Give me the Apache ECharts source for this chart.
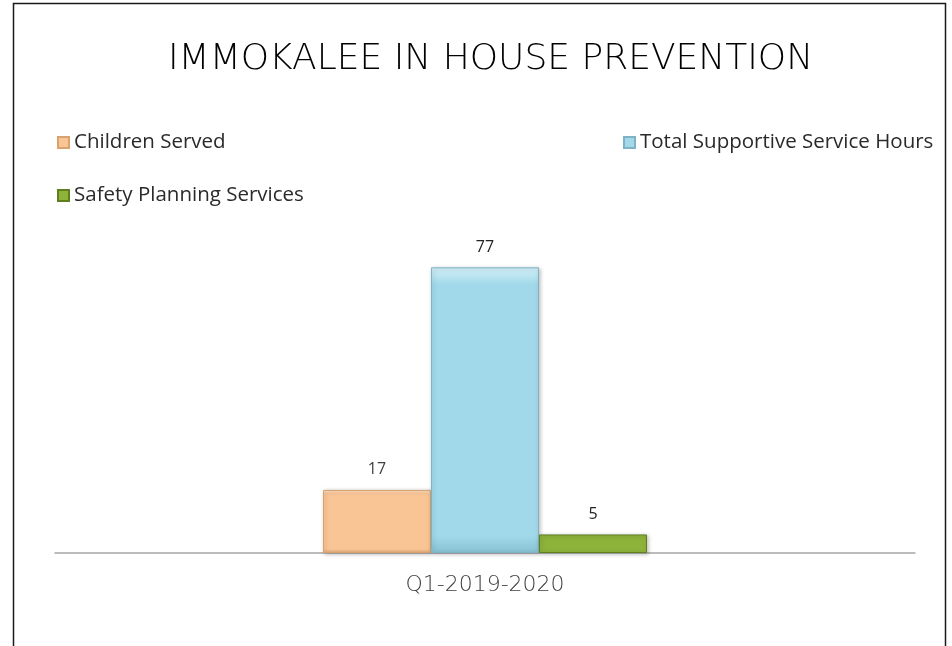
<!DOCTYPE html>
<html>
<head>
<meta charset="utf-8">
<script src="https://cdn.jsdelivr.net/npm/echarts@6/dist/echarts.min.js"></script>
<style>html,body{margin:0;padding:0;background:#fff}#c{width:952px;height:646px}</style>
</head>
<body>
<div id="c"></div>
<script>
const categories = ['Q1-2019-2020'];
const seriesNames = ['Children Served', 'Total Supportive Service Hours', 'Safety Planning Services'];
const childrenServed = [17];
const supportiveHours = [77];
const safetyPlanning = [5];

const chart = echarts.init(document.getElementById('c'));
const font = 'Open Sans';
function grad(top, mid, bottom) {
  return new echarts.graphic.LinearGradient(0, 0, 0, 1, [
    {offset: 0, color: top}, {offset: 0.06, color: mid}, {offset: 0.94, color: mid}, {offset: 1, color: bottom}
  ]);
}
const colors = [
  {fill: grad('#fde3c8', '#fac595', '#e0a877'), border: '#d9a26e', label: '#404040'},
  {fill: grad('#d4f1f9', '#a2d9ea', '#86c1d3'), border: '#7fb2c4', label: '#222'},
  {fill: grad('#b6d86a', '#8db33b', '#6a8c24'), border: '#5f7f1e', label: '#222'}
];
const values = [childrenServed, supportiveHours, safetyPlanning];

const legendBase = {
  icon: 'rect', itemWidth: 11, itemHeight: 11, itemGap: 6,
  textStyle: {fontFamily: font, fontSize: 20.5, color: '#2a2a2a'},
  selectedMode: false
};

chart.setOption({
  animation: false,
  title: {
    text: 'IMMOKALEE IN HOUSE PREVENTION',
    left: 163, top: 37,
    textStyle: {fontFamily: 'DejaVu Sans', fontSize: 36, fontWeight: 200, color: '#000'}
  },
  legend: [
    Object.assign({}, legendBase, {data: [seriesNames[0]], left: 52, top: 127}),
    Object.assign({}, legendBase, {data: [seriesNames[1]], left: 618, top: 127}),
    Object.assign({}, legendBase, {data: [seriesNames[2]], left: 52, top: 180})
  ],
  graphic: [{
    type: 'rect', silent: true,
    shape: {x: 13.5, y: 3.5, width: 932, height: 700},
    style: {fill: 'none', stroke: '#1a1a1a', lineWidth: 1.5}
  }],
  grid: {left: 55, right: 37, top: 182, bottom: 93},
  xAxis: {
    type: 'category', data: categories,
    axisLine: {lineStyle: {color: '#a6a6a6', width: 1.5}},
    axisTick: {show: false},
    axisLabel: {fontFamily: 'DejaVu Sans', fontWeight: 200, fontSize: 22, color: '#404040', margin: 21}
  },
  yAxis: {
    type: 'value', min: 0, max: 100, show: false,
    splitLine: {show: false}
  },
  series: seriesNames.map((n, i) => ({
    name: n, type: 'bar', data: values[i],
    barWidth: 108, barGap: '0%',
    itemStyle: {color: colors[i].fill, borderColor: colors[i].border, borderWidth: 1,
      shadowColor: 'rgba(0,0,0,0.25)', shadowBlur: 4, shadowOffsetX: 1, shadowOffsetY: 1},
    label: {show: true, position: 'top', distance: 12, fontFamily: font, fontSize: 16, color: colors[i].label}
  }))
});
</script>
</body>
</html>
